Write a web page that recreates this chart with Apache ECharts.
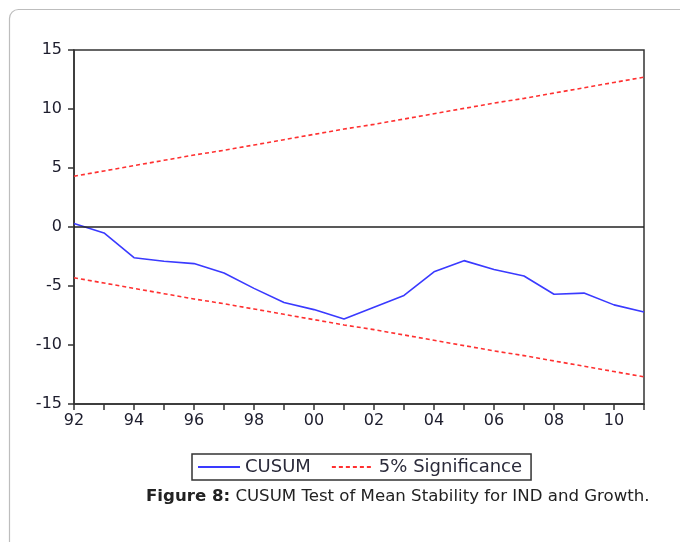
<!DOCTYPE html>
<html><head><meta charset="utf-8">
<script src="https://cdn.jsdelivr.net/npm/echarts@6/dist/echarts.min.js"></script>
<style>html,body{margin:0;padding:0;background:#fff;}#c{width:680px;height:542px;}</style>
</head><body><div id="c"></div>
<script>
var years = ['92','93','94','95','96','97','98','99','00','01','02','03','04','05','06','07','08','09','10','11'];
var cusum = [0.3,-0.5,-2.6,-2.9,-3.1,-3.9,-5.2,-6.4,-7.0,-7.8,-6.8,-5.8,-3.8,-2.85,-3.6,-4.15,-5.7,-5.6,-6.6,-7.2];
var upper = [4.3,4.75,5.2,5.65,6.1,6.5,6.95,7.4,7.85,8.3,8.7,9.15,9.6,10.05,10.5,10.9,11.35,11.8,12.25,12.7];
var lower = [-4.3,-4.75,-5.2,-5.65,-6.1,-6.5,-6.95,-7.4,-7.85,-8.3,-8.7,-9.15,-9.6,-10.05,-10.5,-10.9,-11.35,-11.8,-12.25,-12.7];
var yTicks = {min:-15, max:15, step:5};

var chart = echarts.init(document.getElementById('c'), null, {renderer:'canvas'});
var font = 'DejaVu Sans, Liberation Sans, sans-serif';
chart.setOption({
  animation:false,
  textStyle:{fontFamily:font},
  grid:{left:74, right:36, top:50, bottom:138, show:true, borderColor:'#333', borderWidth:1.5, backgroundColor:'transparent'},
  xAxis:{type:'category', data:years, boundaryGap:false,
    axisLine:{onZero:false, lineStyle:{color:'#333', width:1.5}},
    axisTick:{show:true, interval:0, length:6, lineStyle:{color:'#333', width:1.5}},
    axisLabel:{interval:1, color:'#1c1c2c', fontSize:16, margin:9, fontFamily:font},
    splitLine:{show:false}},
  yAxis:{type:'value', min:yTicks.min, max:yTicks.max, interval:yTicks.step,
    axisLine:{show:true, lineStyle:{color:'#333', width:1.5}},
    axisTick:{show:true, length:6, lineStyle:{color:'#333', width:1.5}},
    axisLabel:{color:'#1c1c2c', fontSize:16, margin:12, fontFamily:font},
    splitLine:{show:false}},
  legend:{data:['CUSUM','5% Significance'], left:192, top:454,
    padding:[4,9,4,5], borderColor:'#333', borderWidth:1.5, itemWidth:42, itemHeight:10, itemGap:20,
    itemStyle:{opacity:0, borderWidth:0},
    textStyle:{fontSize:18, color:'#2a2a3a', fontFamily:font}},
  series:[
    {name:'CUSUM', type:'line', data:cusum, showSymbol:false, symbol:'none', lineStyle:{color:'#3a3aff', width:1.6}, itemStyle:{color:'#3a3aff'},
     markLine:{silent:true, symbol:'none', label:{show:false}, lineStyle:{color:'#222', width:1.5, type:'solid'}, data:[{yAxis:0}]}, z:3},
    {name:'5% Significance', type:'line', data:upper, showSymbol:false, symbol:'none', lineStyle:{color:'#ff3030', width:1.6, type:[4,3]}, itemStyle:{color:'#ff3030'}},
    {name:'5% Significance', type:'line', data:lower, showSymbol:false, symbol:'none', lineStyle:{color:'#ff3030', width:1.6, type:[4,3]}, itemStyle:{color:'#ff3030'}}
  ],
  graphic:[
    {type:'rect', shape:{x:9.5, y:9.5, width:720, height:600, r:9}, style:{fill:'none', stroke:'#bdbdbd', lineWidth:1.2}, silent:true},
    {type:'text', left:146, top:488, style:{text:'{b|Figure 8:} CUSUM Test of Mean Stability for IND and Growth.', rich:{b:{fontWeight:'bold', fontSize:16.6, fontFamily:font, fill:'#222'}}, fontSize:16.6, fontFamily:font, fill:'#222'}}
  ]
});
</script></body></html>
